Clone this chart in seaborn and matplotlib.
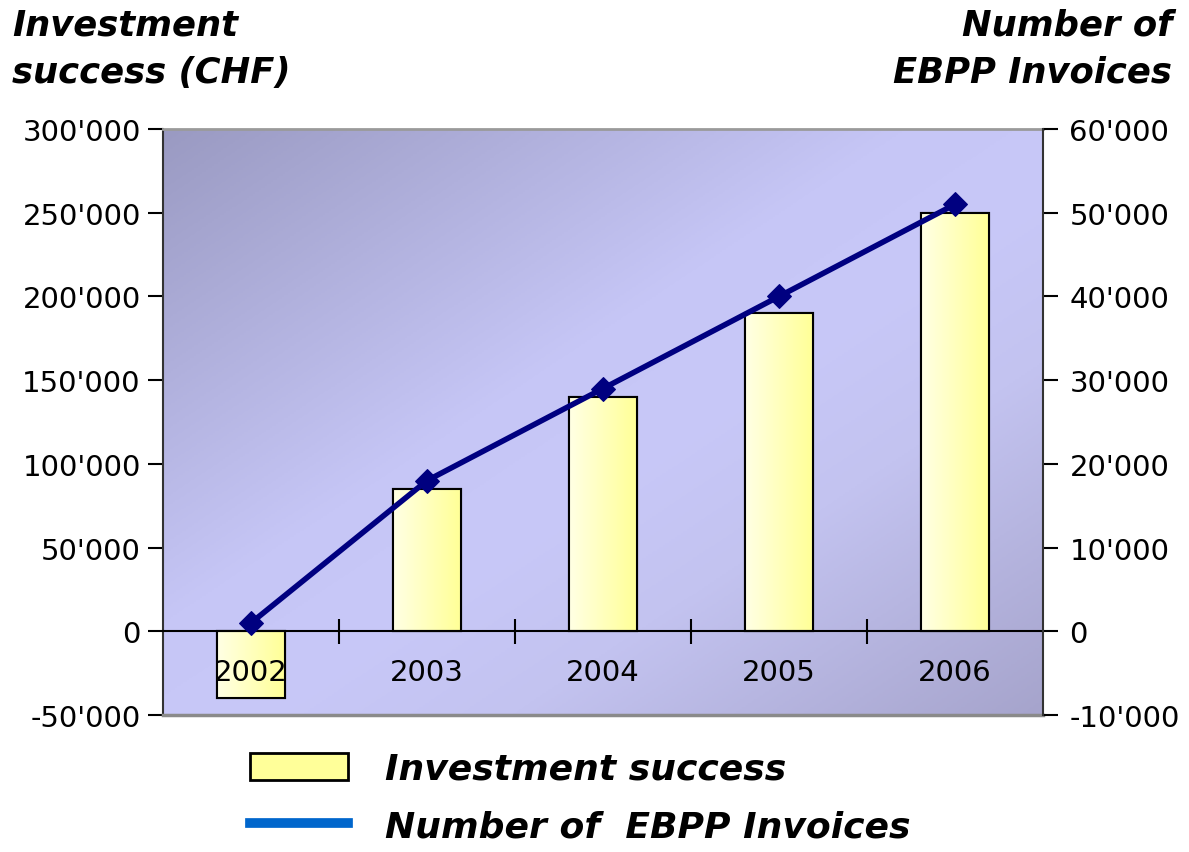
import numpy as np
import pandas as pd
import matplotlib
matplotlib.use('Agg')
import matplotlib.pyplot as plt
import seaborn as sns
from matplotlib.colors import LinearSegmentedColormap
from matplotlib.patches import Rectangle, Patch
from matplotlib.lines import Line2D
from matplotlib.ticker import FuncFormatter, FixedLocator, NullFormatter

# ---- data ----
years = ['2002', '2003', '2004', '2005', '2006']
investment_success = [-40000, 85000, 140000, 190000, 250000]
ebpp_invoices = [1000, 18000, 29000, 40000, 51000]
left_ticks = [-50000, 0, 50000, 100000, 150000, 200000, 250000, 300000]
right_ticks = [-10000, 0, 10000, 20000, 30000, 40000, 50000, 60000]
left_title = 'Investment\nsuccess (CHF)'
right_title = 'Number of\nEBPP Invoices'
legend_labels = ['Investment success', 'Number of  EBPP Invoices']

plt.rcParams['font.family'] = ['DejaVu Sans']

fig = plt.figure(figsize=(11.89, 8.53), dpi=100)
pos = [163 / 1189, 1 - 716 / 853, 880 / 1189, 586 / 853]

# background gradient
bg = fig.add_axes(pos, zorder=0)
H, W = 300, 450
u = np.linspace(0, 1, W)[None, :]
v = np.linspace(0, 1, H)[:, None]
t = (u + v) / 2
bg_cmap = LinearSegmentedColormap.from_list(
    'bg', [(0, '#9a9ac2'), (0.42, '#c6c6f6'), (0.55, '#c8c8f8'),
           (0.7, '#c3c3f0'), (1, '#a6a4cc')])
bg.imshow(t, cmap=bg_cmap, aspect='auto', extent=[0, 1, 0, 1], origin='upper')
bg.set_axis_off()

ax = fig.add_axes(pos, zorder=1)
ax.patch.set_alpha(0)

df = pd.DataFrame({'year': years, 'investment': investment_success})
sns.barplot(data=df, x='year', y='investment', ax=ax, width=0.39,
            color='#ffff99', saturation=1, edgecolor='black', linewidth=1.5,
            errorbar=None)

bar_cmap = LinearSegmentedColormap.from_list('bar', ['#ffffe4', '#ffff96'])
grad = np.linspace(0, 1, 100)[None, :]
for p in list(ax.patches):
    x0, y0 = p.get_x(), p.get_y()
    w, h = p.get_width(), p.get_height()
    ylo, yhi = min(y0, y0 + h), max(y0, y0 + h)
    z = p.get_zorder()
    ax.imshow(grad, cmap=bar_cmap, aspect='auto', extent=[x0, x0 + w, ylo, yhi],
              zorder=z + 0.1, interpolation='bilinear')
    ax.add_patch(Rectangle((x0, ylo), w, yhi - ylo, fill=False, ec='black',
                           lw=1.5, zorder=z + 0.2))

ax.set_xlim(-0.5, len(years) - 0.5)
ax.set_ylim(left_ticks[0], left_ticks[-1])
ax.set_xlabel('')
ax.set_ylabel('')

fmt = FuncFormatter(lambda val, p: f"{int(round(val)):,}".replace(',', "'"))

# line on secondary axis
ax2 = ax.twinx()
ax2.set_zorder(2)
sns.lineplot(x=np.arange(len(years)), y=ebpp_invoices, ax=ax2, color='#000080',
             linewidth=4, marker='D', markersize=12, markeredgecolor='#000080')
ax2.set_ylim(right_ticks[0], right_ticks[-1])
ax2.set_yticks(right_ticks)
ax2.yaxis.set_major_formatter(fmt)
ax2.tick_params(axis='y', direction='out', length=11, width=1.5,
                labelsize=21, pad=8, colors='black')
ax2.set_ylabel('')
for s in ['left', 'top', 'bottom']:
    ax2.spines[s].set_visible(False)
ax2.spines['right'].set_color('#333333')
ax2.spines['right'].set_linewidth(1.5)

# left y axis
ax.set_yticks(left_ticks)
ax.yaxis.set_major_formatter(fmt)
ax.tick_params(axis='y', direction='out', length=11, width=1.5,
               labelsize=21, pad=5)

# x axis at zero
ax.spines['bottom'].set_position(('data', 0))
ax.spines['bottom'].set_color('black')
ax.spines['bottom'].set_linewidth(1.5)
ax.spines['left'].set_color('#333333')
ax.spines['left'].set_linewidth(1.5)
ax.spines['top'].set_color('#9a9a9a')
ax.spines['top'].set_linewidth(2)
ax.spines['right'].set_visible(False)
ax.xaxis.set_major_locator(FixedLocator([i + 0.5 for i in range(len(years) - 1)]))
ax.xaxis.set_major_formatter(NullFormatter())
ax.set_xticks(range(len(years)), labels=years, minor=True)
ax.tick_params(axis='x', which='major', direction='inout', length=18, width=1.5)
ax.tick_params(axis='x', which='minor', length=0, labelsize=21, pad=19)
ax2.tick_params(axis='x', which='both', bottom=False, labelbottom=False,
                top=False, labeltop=False)
ax.axhline(left_ticks[0], color='#8a8a8a', lw=2.5, clip_on=False, zorder=5)

# titles
fig.text(12 / 1189, 1 - 8 / 853, left_title, ha='left', va='top', fontsize=25.5,
         weight='bold', style='italic', linespacing=1.5)
fig.text(1172 / 1189, 1 - 8 / 853, right_title, ha='right', va='top',
         multialignment='right', fontsize=25.5, weight='bold', style='italic',
         linespacing=1.5)

# legend
handles = [Patch(facecolor='#ffff99', edgecolor='black', linewidth=2),
           Line2D([], [], color='#0066cc', lw=7)]
fig.legend(handles, legend_labels, loc='upper left',
           bbox_to_anchor=(250 / 1189, 1 - 753 / 853), frameon=False,
           prop=dict(weight='bold', style='italic', size=26),
           handlelength=2.7, handleheight=0.8, handletextpad=1.05,
           labelspacing=0.65, borderpad=0, borderaxespad=0)

fig.savefig('out.png', dpi=100)
